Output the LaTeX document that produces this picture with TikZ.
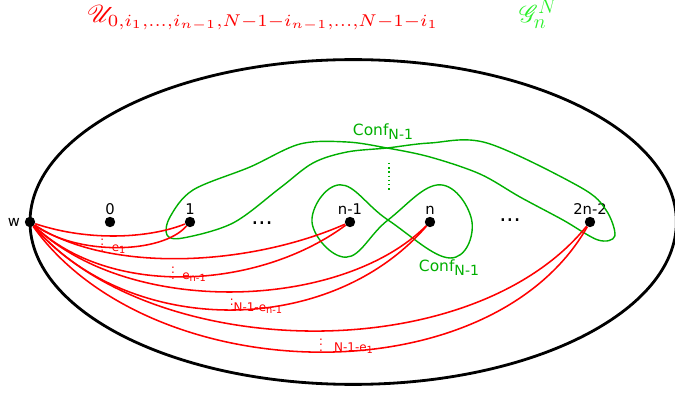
\documentclass[tikz,border=0pt]{standalone}
\usepackage{fontspec}
\setmainfont{DejaVu Sans}
\usepackage{mathrsfs}
\usepackage{graphicx}
\definecolor{edgered}{RGB}{255,0,0}
\definecolor{confgreen}{RGB}{0,175,0}
\definecolor{titlegreen}{RGB}{40,240,40}
\newcommand{\sub}[1]{\raisebox{-0.35ex}{\fontsize{7}{8}\selectfont #1}}

\begin{document}
\begin{tikzpicture}[pt/.style={circle,fill,inner sep=0pt,minimum size=0.26cm},
  lab/.style={font=\fontsize{10.5}{12}\selectfont,inner sep=1pt},
  redline/.style={edgered,line width=1.1pt},
  greenline/.style={confgreen,line width=1pt},
  elab/.style={edgered,font=\fontsize{8.5}{9}\selectfont,inner sep=0pt},
  conf/.style={confgreen,font=\fontsize{11}{12}\selectfont,inner sep=0pt}]
\useasboundingbox (-0.75,-4.35) rectangle (16.125,5.55);
\draw[line width=2pt] (8.08,0) ellipse [x radius=8.08, y radius=4.06];
\node[pt,label={[lab,inner sep=3pt]left:w}] (w) at (0,0) {};
\node[pt,label={[lab]above:0}] (v0) at (2,0) {};   \node[pt,label={[lab]above:1}] (v1) at (4,0) {};
\node[pt,label={[lab]above:n-1}] (vm) at (8,0) {}; \node[pt,label={[lab]above:n}] (vn) at (10,0) {};
\node[pt,label={[lab]above:2n-2}] (vl) at (14,0) {};
\node[font=\fontsize{16}{18}\selectfont] (dl) at (5.8,-0.025) {...};
\node[font=\fontsize{16}{18}\selectfont] (dr) at (12,0.05) {...};
% the two figure eights
\draw[greenline] plot[smooth cycle,tension=0.55] coordinates {(3.425,-0.325) (3.5,0.125) (4.075,0.8) (5.5,1.375) (6.75,1.95) (7.925,2.0) (8.925,1.85) (10,1.625) (11.25,1.2) (12.25,0.625) (13.325,0.05) (14.2,-0.45) (14.62,-0.35) (14.4,0.3) (13.75,0.875) (11.425,1.975) (10,1.975) (8.925,1.85) (7.925,1.75) (7.075,1.475) (6.25,0.85) (5.075,-0.025) (3.825,-0.4)};
\draw[greenline] plot[smooth cycle,tension=0.7] coordinates {(8.95,0.05) (7.75,0.93) (7.05,0) (7.9,-0.88) (8.95,0.05) (10.25,0.93) (11.05,0) (10.5,-0.9)};
\draw[greenline,dotted,line width=1pt] (8.975,1.475) -- (8.975,0.8);
\node[conf] (ct) at (8.825,2.25) {Conf\raisebox{-0.45ex}{\fontsize{10}{12}\selectfont N-1}};
\node[conf] (cb) at (10.475,-1.15) {Conf\raisebox{-0.45ex}{\fontsize{10}{12}\selectfont N-1}};
% paths from w
\foreach \T/\ax/\ay/\bx/\by in {v1/1.5/-0.5/3/-0.4,v1/1.2/-0.85/3.3/-0.8,vm/2/-1.3/5.5/-1.1,vm/2/-1.9/5.7/-1.7,vn/2.5/-2.4/7.8/-2.2,vn/2.5/-2.9/7.5/-2.9,vl/3/-3.5/11/-3.7,vl/3/-4.2/11.5/-4.4}{\draw[redline] (w) .. controls (\ax,\ay) and (\bx,\by) .. (\T);}
\node[elab] (e1) at (2.075,-0.5) {$\vdots$\ \ e\sub{1}};
\node[elab] (em) at (3.96,-1.2) {$\vdots$\ \ e\sub{n-1}};
\node[elab] (fm) at (5.65,-2.0) {$\vdots$N-1-e\sub{n-1}};
\node[elab] (f1) at (7.9,-3.0) {$\vdots$\ \ \ N-1-e\sub{1}};
% titles
\node[edgered] (tu) at (5.825,5.1) {\resizebox*{8.8cm}{0.63cm}{$\mathscr{U}_{0,i_1,\ldots,i_{n-1},N-1-i_{n-1},\ldots,N-1-i_1}$}};
\node[titlegreen] (tg) at (12.7,5.2) {\fontsize{19}{21}\selectfont$\mathscr{G}_n^N$};
\end{tikzpicture}
\end{document}
